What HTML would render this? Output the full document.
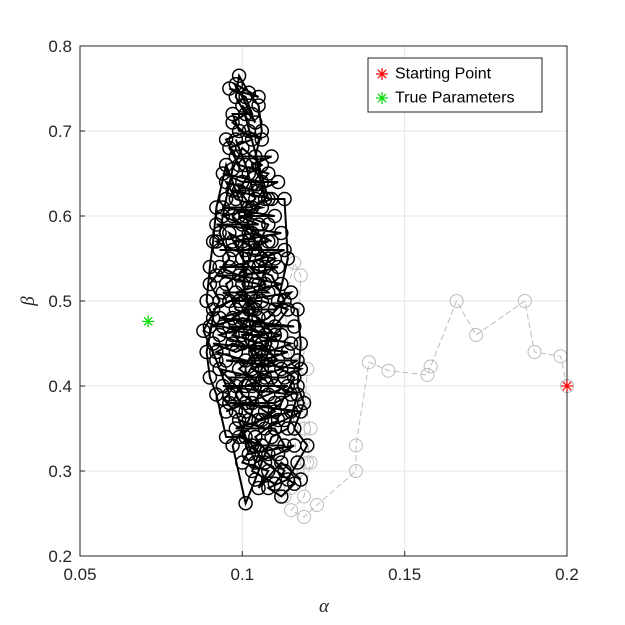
<!DOCTYPE html>
<html><head><meta charset="utf-8">
<style>
body{margin:0;background:#fff;}
svg{display:block;font-family:"Liberation Sans",sans-serif;}
</style></head>
<body>
<svg id="chart" width="625" height="625" viewBox="0 0 625 625">
<rect x="0" y="0" width="625" height="625" fill="#fff"/>
<g id="grid"></g>
<g id="gray"></g>
<g id="black"></g>
<g id="axes"></g>
<g id="marks"></g>
<text x="324" y="612" font-family="Liberation Serif,serif" font-style="italic" font-size="19" text-anchor="middle" fill="#262626">α</text>
<text x="0" y="0" transform="translate(34,301) rotate(-90)" font-family="Liberation Serif,serif" font-style="italic" font-size="19" text-anchor="middle" fill="#262626">β</text>
<g id="legend">
<rect x="368" y="58" width="174" height="54" fill="#fff" stroke="#262626" stroke-width="1"/>
<text x="395" y="74" font-size="16" fill="#000" dominant-baseline="central">Starting Point</text>
<text x="395" y="98" font-size="16" fill="#000" dominant-baseline="central">True Parameters</text>
</g>
</svg>
<script>
const xTicks=[0.05,0.1,0.15,0.2];
const xTickLabels=["0.05","0.1","0.15","0.2"];
const yTicks=[0.2,0.3,0.4,0.5,0.6,0.7,0.8];
const yTickLabels=["0.2","0.3","0.4","0.5","0.6","0.7","0.8"];
const grayAlpha=[0.2,0.198,0.19,0.187,0.172,0.166,0.158,0.157,0.145,0.139,0.135,0.135,0.123,0.119,0.115,0.119,0.121,0.119,0.12,0.117,0.118,0.116,0.113,0.117,0.115,0.113,0.120,0.121,0.119];
const grayBeta=[0.4,0.435,0.44,0.5,0.46,0.5,0.423,0.413,0.418,0.428,0.33,0.30,0.26,0.246,0.254,0.27,0.31,0.35,0.42,0.44,0.53,0.545,0.5,0.30,0.28,0.27,0.31,0.35,0.385];
const chainAlpha=[0.118,0.112,0.105,0.108,0.100,0.103,0.113,0.110,0.098,0.106,0.115,0.101,0.095,0.108,0.114,0.098,0.093,0.104,0.112,0.117,0.101,0.092,0.097,0.108,0.115,0.103,0.094,0.090,0.100,0.110,0.114,0.106,0.096,0.091,0.102,0.112,0.099,0.093,0.105,0.110,0.097,0.092,0.103,0.109,0.100,0.094,0.106,0.098,0.095,0.104,0.108,0.099,0.096,0.103,0.097,0.101,0.098,0.099,0.102,0.105,0.106,0.104,0.107,0.101,0.108,0.104,0.096,0.100,0.107,0.098,0.104,0.097,0.106,0.111,0.103,0.109,0.096,0.100,0.107,0.111,0.104,0.108,0.113,0.110,0.103,0.106,0.099,0.112,0.116,0.108,0.100,0.093,0.102,0.108,0.113,0.109,0.102,0.095,0.098,0.105,0.110,0.105,0.099,0.106,0.102,0.097,0.101,0.104,0.109,0.114,0.117,0.110,0.104,0.101,0.100,0.103,0.099,0.102,0.106,0.100,0.097,0.095,0.093,0.096,0.090,0.093,0.088,0.092,0.096,0.094,0.098,
0.104,0.111,0.116,0.102,0.099,0.107,0.113,0.118,0.096,0.103,0.110,0.115,0.094,0.101,0.107,0.113,0.118,0.095,0.106,0.114,0.091,0.098,0.104,0.112,0.096,0.105,0.116,0.093,0.102,0.110,0.115,0.099,0.094,0.108,0.105,0.092,0.101,0.111,0.096,0.106,0.113,0.093,0.101,0.108,0.097,0.112,0.092,0.105,0.099,0.110,0.094,0.102,0.109,0.097,0.105,0.111,0.100,0.094,0.106,0.103,0.109,0.098,0.095,0.102,0.106,0.099,0.097,0.103,0.101,0.096,0.105,0.098,0.104,0.100,0.108,0.113,0.114,0.111,0.117,0.118,0.117,0.119,0.116,0.120,0.117,0.114,0.108,0.112,0.116,0.107,0.101,0.095,0.092,0.090,0.089,0.091,0.089,0.090,0.091,0.092,0.095,0.107,0.104,0.100,0.103,0.109,0.106,0.103,0.110,0.105,0.101,0.098,0.104,0.100,0.107,0.097,0.104,0.108,0.102,0.097,0.104,0.101,0.098];
const chainBeta=[0.29,0.31,0.28,0.30,0.31,0.33,0.33,0.35,0.35,0.36,0.37,0.38,0.37,0.39,0.40,0.40,0.42,0.41,0.42,0.43,0.43,0.44,0.45,0.44,0.45,0.46,0.47,0.47,0.48,0.47,0.49,0.50,0.50,0.49,0.51,0.52,0.53,0.54,0.54,0.55,0.56,0.57,0.58,0.57,0.59,0.60,0.61,0.62,0.64,0.63,0.65,0.66,0.68,0.69,0.71,0.72,0.74,0.765,0.745,0.73,0.70,0.67,0.62,0.60,0.59,0.56,0.58,0.55,0.52,0.51,0.49,0.46,0.45,0.43,0.42,0.41,0.41,0.39,0.37,0.36,0.34,0.32,0.30,0.285,0.30,0.33,0.34,0.38,0.41,0.43,0.45,0.46,0.47,0.48,0.50,0.53,0.54,0.52,0.49,0.48,0.46,0.44,0.42,0.40,0.36,0.33,0.262,0.29,0.34,0.35,0.39,0.40,0.44,0.50,0.57,0.61,0.63,0.65,0.66,0.68,0.655,0.62,0.58,0.55,0.52,0.50,0.465,0.43,0.39,0.385,0.37,
0.31,0.32,0.33,0.32,0.36,0.35,0.36,0.37,0.38,0.38,0.38,0.39,0.40,0.40,0.41,0.41,0.42,0.43,0.43,0.44,0.45,0.44,0.45,0.46,0.47,0.47,0.47,0.48,0.49,0.49,0.51,0.50,0.51,0.51,0.52,0.53,0.53,0.54,0.54,0.55,0.56,0.56,0.56,0.57,0.57,0.58,0.59,0.59,0.60,0.60,0.61,0.61,0.62,0.63,0.63,0.64,0.64,0.65,0.64,0.66,0.67,0.67,0.69,0.70,0.69,0.70,0.72,0.72,0.74,0.75,0.74,0.755,0.71,0.73,0.62,0.62,0.55,0.50,0.49,0.45,0.40,0.38,0.35,0.33,0.31,0.29,0.28,0.27,0.285,0.31,0.34,0.34,0.39,0.41,0.44,0.48,0.50,0.54,0.57,0.61,0.66,0.54,0.57,0.52,0.49,0.45,0.42,0.40,0.37,0.36,0.37,0.39,0.43,0.46,0.46,0.48,0.50,0.55,0.58,0.60,0.62,0.66,0.69];
const startPoint=[0.2,0.4];
const truePoint=[0.071,0.476];

const NS="http://www.w3.org/2000/svg";
const L=80,R=567,T=46,B=556;
function xs(a){return L+(a-0.05)/0.15*(R-L);}
function ys(b){return B-(b-0.2)/0.6*(B-T);}
function mk(tag,attrs,parent){const e=document.createElementNS(NS,tag);for(const k in attrs)e.setAttribute(k,attrs[k]);parent.appendChild(e);return e;}
const grid=document.getElementById('grid'),axes=document.getElementById('axes');
xTicks.forEach((t,i)=>{
 const l=mk('line',{x1:xs(t),x2:xs(t),y1:T,y2:B,stroke:'#e6e6e6','stroke-width':1},grid);
 
 
 const tk=mk('line',{x1:xs(t),x2:xs(t),y1:B,y2:B-5,stroke:'#262626'},axes);
 
 
 const tx=mk('text',{x:xs(t),y:B+24,'font-size':17,'text-anchor':'middle',fill:'#262626'},axes);
 tx.textContent=xTickLabels[i];
 
 
});
yTicks.forEach((t,i)=>{
 const l=mk('line',{x1:L,x2:R,y1:ys(t),y2:ys(t),stroke:'#e6e6e6','stroke-width':1},grid);
 
 
 const tk=mk('line',{x1:L,x2:L+5,y1:ys(t),y2:ys(t),stroke:'#262626'},axes);
 
 
 const tx=mk('text',{x:L-8,y:ys(t)+6,'font-size':17,'text-anchor':'end',fill:'#262626'},axes);
 tx.textContent=yTickLabels[i];
 
 
});
const frame=mk('rect',{x:L,y:T,width:R-L,height:B-T,fill:'none',stroke:'#262626','stroke-width':1},axes);



function chain(g,A,Bv,col,dash,sw,cw){
 let d='';
 A.forEach((a,i)=>{d+=(i?'L':'M')+xs(a).toFixed(1)+' '+ys(Bv[i]).toFixed(1);});
 const p=mk('path',{d:d,fill:'none',stroke:col,'stroke-width':sw,'stroke-dasharray':dash},g);
 
 
 A.forEach((a,i)=>{
  const c=mk('circle',{cx:xs(a),cy:ys(Bv[i]),r:6.5,fill:'none',stroke:col,'stroke-width':cw},g);
  
  
 });
}
chain(document.getElementById('gray'),grayAlpha,grayBeta,'#bdbdbd','6,3',1,1);
chain(document.getElementById('black'),chainAlpha,chainBeta,'#000','none',2,1.5);

function star(parent,cx,cy,col,name){
 const g=mk('g',{stroke:col,'stroke-width':1.2},parent);
 
 
 const r=6;
 mk('line',{x1:cx-r,y1:cy,x2:cx+r,y2:cy},g);
 mk('line',{x1:cx,y1:cy-r,x2:cx,y2:cy+r},g);
 mk('line',{x1:cx-r*0.7,y1:cy-r*0.7,x2:cx+r*0.7,y2:cy+r*0.7},g);
 mk('line',{x1:cx-r*0.7,y1:cy+r*0.7,x2:cx+r*0.7,y2:cy-r*0.7},g);
}
const marks=document.getElementById('marks');
star(marks,xs(startPoint[0]),ys(startPoint[1]),'#f00','starting-point-marker');
star(marks,xs(truePoint[0]),ys(truePoint[1]),'#0d0','true-parameters-marker');
const leg=document.getElementById('legend');
star(leg,382,74,'#f00','legend-red-asterisk');
star(leg,382,98,'#0d0','legend-green-asterisk');
</script>
</body></html>
